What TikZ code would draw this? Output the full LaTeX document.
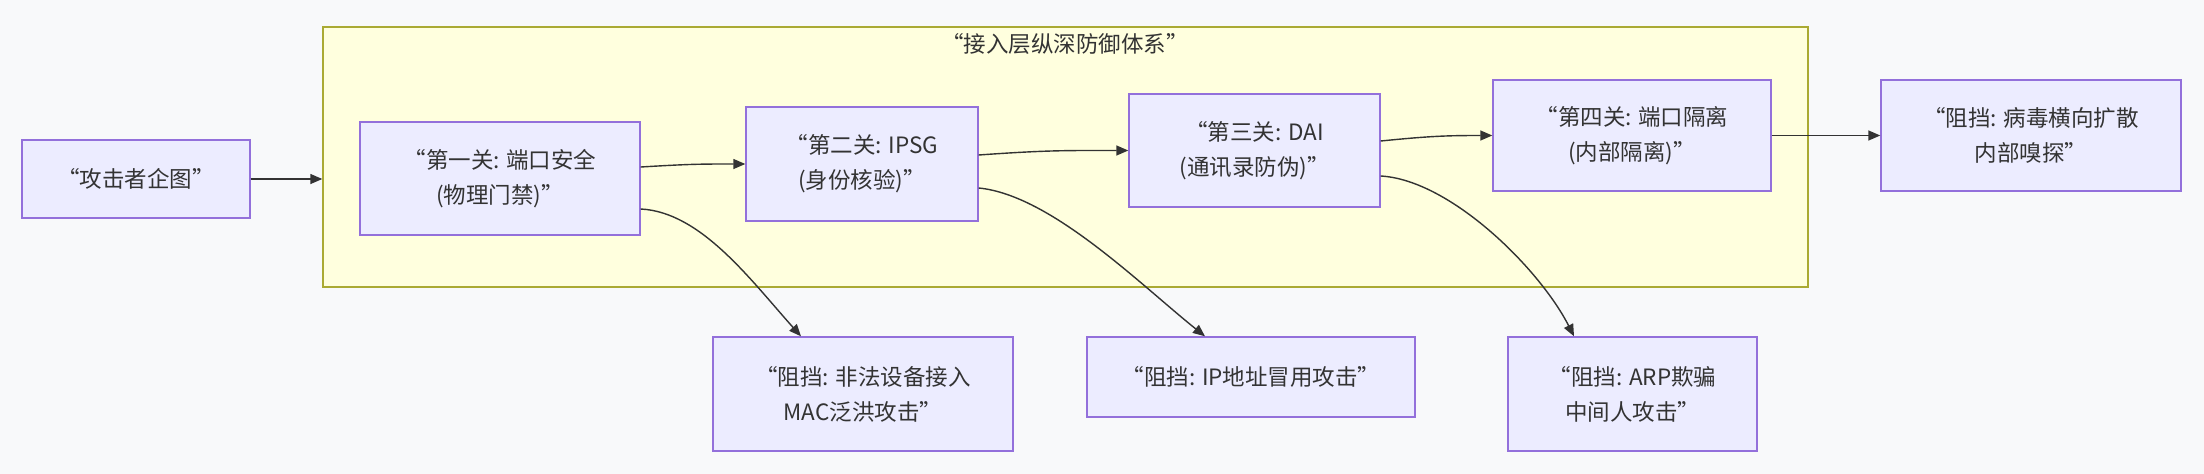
\documentclass[tikz,border=0pt]{standalone}
\usepackage{fontspec}
\newfontfamily\cjk{Noto Sans CJK SC}
\usetikzlibrary{arrows.meta,positioning}
\definecolor{bgcol}{HTML}{F8F9FA}
\definecolor{nodefill}{HTML}{ECECFF}
\definecolor{nodeline}{HTML}{9370DB}
\definecolor{clusterfill}{HTML}{FFFFDE}
\definecolor{clusterline}{HTML}{AAAA33}
\definecolor{edgecol}{HTML}{333333}

\begin{document}
\begin{tikzpicture}[x=1pt, y=-1pt,
  box/.style={draw=nodeline, fill=nodefill, line width=1.4pt, align=center,
    font=\cjk\fontsize{22.5}{35}\selectfont, text=edgecol, inner sep=0pt},
  cluster/.style={draw=clusterline, fill=clusterfill, line width=1.4pt, inner sep=0pt},
  arr/.style={draw=edgecol, line width=1.4pt, -{Triangle[length=12pt,width=10pt]}}
]
  % Background, fixes the page size
  \fill[bgcol] (0,0) rectangle (2204,474);

  % Cluster: access layer defence
  \node[cluster, minimum width=1485pt, minimum height=260pt] (frame) at (1065.5,157) {};
  \node[font=\cjk\fontsize{22.5}{35}\selectfont, text=edgecol] (title) at (1065,44) {“接入层纵深防御体系”};

  % Row 1: attacker and the four gates
  \node[box, minimum width=228pt, minimum height=78pt] (attacker) at (136,179) {“攻击者企图”};
  \node[box, minimum width=280pt, minimum height=113pt] (gate1) at (500,178.5) {“第一关: 端口安全\\(物理门禁)”};
  \node[box, minimum width=232pt, minimum height=114pt] (gate2) at (862,164) {“第二关: IPSG\\(身份核验)”};
  \node[box, minimum width=251pt, minimum height=113pt] (gate3) at (1254.5,150.5) {“第三关: DAI\\(通讯录防伪)”};
  \node[box, minimum width=278pt, minimum height=111pt] (gate4) at (1632,135.5) {“第四关: 端口隔离\\(内部隔离)”};
  \node[box, minimum width=300pt, minimum height=111pt] (block4) at (2031,135.5) {“阻挡: 病毒横向扩散\\内部嗅探”};

  % Row 2: what each gate blocks
  \node[box, minimum width=300pt, minimum height=114pt] (block1) at (863,394) {“阻挡: 非法设备接入\\MAC泛洪攻击”};
  \node[box, minimum width=328pt, minimum height=80pt] (block2) at (1251,377) {“阻挡: IP地址冒用攻击”};
  \node[box, minimum width=249pt, minimum height=114pt] (block3) at (1632.5,394) {“阻挡: ARP欺骗\\中间人攻击”};

  % Edges
  \draw[arr] (attacker.east) -- (attacker.east -| frame.west);
  \draw[arr] ([yshift=11.5pt]gate1.east) .. controls +(50,-3) and +(-45,0) .. (gate2.west);
  \draw[arr] ([yshift=9pt]gate2.east) .. controls +(70,-5) and +(-60,0) .. (gate3.west);
  \draw[arr] ([yshift=9.5pt]gate3.east) .. controls +(50,-5) and +(-45,0) .. (gate4.west);
  \draw[arr] (gate4.east) -- (block4.west);
  \draw[arr] ([yshift=-30.5pt]gate1.east) .. controls +(60,3) and +(-51,-57) .. ([xshift=-62pt]block1.north);
  \draw[arr] ([yshift=-24pt]gate2.east) .. controls +(72,7) and +(-65,-52) .. ([xshift=-46pt]block2.north);
  \draw[arr] ([yshift=-25.5pt]gate3.east) .. controls +(70,4) and +(-34,-67) .. ([xshift=-58.5pt]block3.north);
\end{tikzpicture}
\end{document}
